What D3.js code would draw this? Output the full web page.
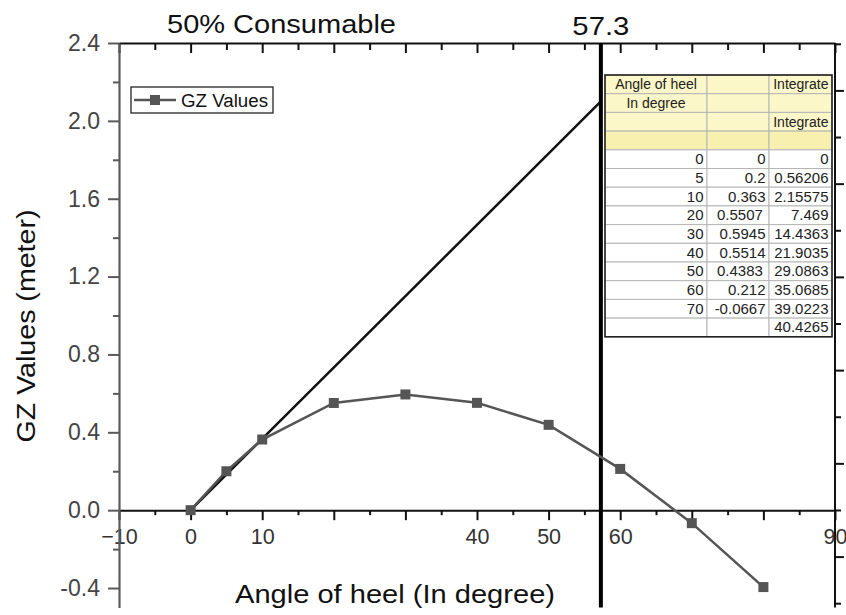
<!DOCTYPE html>
<html>
<head>
<meta charset="utf-8">
<script src="https://cdn.jsdelivr.net/npm/d3@7"></script>
<style>
  html, body { margin: 0; padding: 0; background: #fff; }
  svg { display: block; font-family: "Liberation Sans", Arial, sans-serif; }
</style>
</head>
<body>
<svg id="chart" width="846" height="615"></svg>
<script>
// ---------- data ----------
const angles = [0, 5, 10, 20, 30, 40, 50, 60, 70, 80];
const gzValues = [0, 0.2, 0.363, 0.5507, 0.5945, 0.5514, 0.4383, 0.212, -0.0667, -0.395];
const tangentX = [0, 57.3];
const tangentY = [0, 2.1];
const markerAngle = 57.3;

const xMajorTicks = [-10, 0, 10, 20, 30, 40, 50, 60, 70, 80, 90];
const xMinorTicks = [-5, 5, 15, 25, 35, 45, 55, 65, 75, 85];
const xLabelTicks = [-10, 0, 10, 40, 50, 60, 90];
const yMajorTicks = [-0.4, 0, 0.4, 0.8, 1.2, 1.6, 2.0, 2.4];
const yMinorTicks = [-0.2, 0.2, 0.6, 1.0, 1.4, 1.8, 2.2];
const rightMajorTicks = [-1, 0, 1, 2, 3, 4];
const rightMinorTicks = [-1.5, -0.5, 0.5, 1.5, 2.5, 3.5, 4.5];

const tableHeader = [
  ["Angle of heel", "", "Integrate"],
  ["In degree", "", ""],
  ["", "", "Integrate"],
  ["", "", ""]
];
const tableAngle = ["0", "5", "10", "20", "30", "40", "50", "60", "70", ""];
const tableGZ = ["0", "0.2", "0.363", "0.5507", "0.5945", "0.5514", "0.4383", "0.212", "-0.0667", ""];
const tableIntegrate = ["0", "0.56206", "2.15575", "7.469", "14.4363", "21.9035", "29.0863", "35.0685", "39.0223", "40.4265"];
const textCells = ["0.5507", "0.4383"]; // stored as text in the sheet -> left aligned

const titleText = "50% Consumable";
const xTitle = "Angle of heel (In degree)";
const yTitle = "GZ Values (meter)";
const legendLabel = "GZ Values";

// ---------- layout ----------
const svg = d3.select("#chart");
const L = 119, R = 835, T = 43, B = 607.5;
const x = d3.scaleLinear().domain([-10, 90]).range([L, R]);
const y = d3.scaleLinear().domain([-0.5, 2.4]).range([B, T]);
const yR = d3.scaleLinear().domain([-1.5, 4.5]).range([603.2, 43.8]);
const fmtX = d3.format("d");
const lineColor = "#555555";

// ---------- axes ----------
svg.append("g").attr("transform", `translate(0,${T})`)
  .call(d3.axisTop(x).tickValues(xMajorTicks).tickSize(-10).tickSizeOuter(0).tickFormat(""))
  .call(g => g.select(".domain").attr("stroke", "#111").attr("stroke-width", 2))
  .call(g => g.selectAll(".tick line").attr("stroke", "#111").attr("stroke-width", 2));
svg.append("g").attr("transform", `translate(0,${T})`)
  .call(d3.axisTop(x).tickValues(xMinorTicks).tickSize(-7).tickFormat(""))
  .call(g => g.select(".domain").remove())
  .call(g => g.selectAll(".tick line").attr("stroke", "#111").attr("stroke-width", 2));

svg.append("line").attr("x1", R).attr("x2", R).attr("y1", T).attr("y2", B)
  .attr("stroke", "#111").attr("stroke-width", 2);
svg.append("g").attr("transform", `translate(${R},0)`)
  .call(d3.axisRight(yR).tickValues(rightMajorTicks).tickSize(9).tickFormat(""))
  .call(g => g.select(".domain").remove())
  .call(g => g.selectAll(".tick line").attr("stroke", "#111").attr("stroke-width", 2));
svg.append("g").attr("transform", `translate(${R},0)`)
  .call(d3.axisRight(yR).tickValues(rightMinorTicks).tickSize(6).tickFormat(""))
  .call(g => g.select(".domain").remove())
  .call(g => g.selectAll(".tick line").attr("stroke", "#111").attr("stroke-width", 2));

const y0 = y(0);
svg.append("g").attr("transform", `translate(0,${y0})`)
  .call(d3.axisBottom(x).tickValues(xMajorTicks).tickSize(10).tickSizeOuter(0).tickPadding(9)
    .tickFormat(d => xLabelTicks.includes(d) ? fmtX(d) : ""))
  .call(g => g.select(".domain").attr("stroke", "#111").attr("stroke-width", 2))
  .call(g => g.selectAll(".tick line").attr("stroke", "#111").attr("stroke-width", 2))
  .call(g => g.selectAll(".tick text").attr("fill", "#333").attr("font-size", 21.5)
    .attr("font-family", "Liberation Sans, Arial, sans-serif"));
svg.append("g").attr("transform", `translate(0,${y0})`)
  .call(d3.axisBottom(x).tickValues(xMinorTicks).tickSize(5).tickFormat(""))
  .call(g => g.select(".domain").remove())
  .call(g => g.selectAll(".tick line").attr("stroke", "#111").attr("stroke-width", 2));

svg.append("g").attr("transform", `translate(${L},0)`)
  .call(d3.axisLeft(y).tickValues(yMajorTicks).tickSize(11).tickSizeOuter(0).tickPadding(8)
    .tickFormat(d => d.toFixed(1)))
  .call(g => g.select(".domain").attr("stroke", "#5a5a5a").attr("stroke-width", 2.2))
  .call(g => g.selectAll(".tick line").attr("stroke", "#5a5a5a").attr("stroke-width", 2))
  .call(g => g.selectAll(".tick text").attr("fill", "#444").attr("font-size", 23)
    .attr("font-family", "Liberation Sans, Arial, sans-serif"));
svg.append("g").attr("transform", `translate(${L},0)`)
  .call(d3.axisLeft(y).tickValues(yMinorTicks).tickSize(6).tickFormat(""))
  .call(g => g.select(".domain").remove())
  .call(g => g.selectAll(".tick line").attr("stroke", "#5a5a5a").attr("stroke-width", 2));

// ---------- titles ----------
svg.append("text").attr("x", 281.5).attr("y", 33).attr("text-anchor", "middle")
  .attr("font-size", 26).attr("fill", "#111")
  .attr("textLength", 229).attr("lengthAdjust", "spacingAndGlyphs").text(titleText);
svg.append("text").attr("x", x(markerAngle)).attr("y", 35).attr("text-anchor", "middle")
  .attr("font-size", 26).attr("fill", "#111")
  .attr("textLength", 57).attr("lengthAdjust", "spacingAndGlyphs").text(String(markerAngle));
svg.append("text").attr("x", 395).attr("y", 603).attr("text-anchor", "middle")
  .attr("font-size", 26).attr("fill", "#111")
  .attr("textLength", 320).attr("lengthAdjust", "spacingAndGlyphs").text(xTitle);
svg.append("text").attr("transform", "translate(35,326) rotate(-90)").attr("text-anchor", "middle")
  .attr("font-size", 26).attr("fill", "#111")
  .attr("textLength", 233).attr("lengthAdjust", "spacingAndGlyphs").text(yTitle);

// ---------- table ----------
const colEdges = [605, 707, 769, 832];
const tableTop = 75, rowH = 18.7;
const allRows = tableHeader.concat(tableAngle.map((a, i) => [a, tableGZ[i], tableIntegrate[i]]));
const tg = svg.append("g").attr("fill", "#222");
allRows.forEach((row, r) => {
  const yTop = tableTop + r * rowH;
  const fill = r < 3 ? "#FBF7C8" : (r === 3 ? "#F7F0AE" : "#ffffff");
  row.forEach((cell, c) => {
    tg.append("rect").attr("x", colEdges[c]).attr("y", yTop)
      .attr("width", colEdges[c + 1] - colEdges[c]).attr("height", rowH)
      .attr("fill", fill).attr("stroke", "#b5b5b5").attr("stroke-width", 1);
    if (cell === "") return;
    let tx, anchor;
    if (r < 4 && c === 0) { tx = (colEdges[0] + colEdges[1]) / 2; anchor = "middle"; }
    else if (r >= 4 && textCells.includes(cell)) { tx = colEdges[c] + 10; anchor = "start"; }
    else { tx = colEdges[c + 1] - 3.5; anchor = "end"; }
    tg.append("text").attr("x", tx).attr("y", yTop + rowH / 2 + 5)
      .attr("text-anchor", anchor).attr("font-size", r < 4 ? 14 : 15).text(cell);
  });
});
tg.append("rect").attr("x", colEdges[0]).attr("y", tableTop)
  .attr("width", colEdges[3] - colEdges[0]).attr("height", rowH * allRows.length)
  .attr("fill", "none").attr("stroke", "#222").attr("stroke-width", 1.6);

// ---------- marks ----------
const tangent = tangentX.map((v, i) => [v, tangentY[i]]);
svg.append("path").datum(tangent)
  .attr("d", d3.line().x(d => x(d[0])).y(d => y(d[1])))
  .attr("stroke", "#111").attr("stroke-width", 2.5).attr("fill", "none");

svg.append("line").attr("x1", x(markerAngle)).attr("x2", x(markerAngle))
  .attr("y1", T).attr("y2", B).attr("stroke", "#000").attr("stroke-width", 4);

const pts = angles.map((a, i) => [a, gzValues[i]]);
svg.append("path").datum(pts)
  .attr("d", d3.line().x(d => x(d[0])).y(d => y(d[1])))
  .attr("stroke", lineColor).attr("stroke-width", 2.5).attr("fill", "none");
svg.append("g").selectAll("rect").data(pts).join("rect")
  .attr("x", d => x(d[0]) - 5).attr("y", d => y(d[1]) - 5)
  .attr("width", 10).attr("height", 10).attr("fill", lineColor);

// ---------- legend ----------
const lg = svg.append("g");
lg.append("rect").attr("x", 131).attr("y", 87).attr("width", 142).attr("height", 26)
  .attr("fill", "#fff").attr("stroke", "#111").attr("stroke-width", 1.2);
lg.append("line").attr("x1", 134).attr("x2", 176).attr("y1", 100).attr("y2", 100)
  .attr("stroke", lineColor).attr("stroke-width", 2.5);
lg.append("rect").attr("x", 150).attr("y", 95).attr("width", 10).attr("height", 10).attr("fill", lineColor);
lg.append("text").attr("x", 181).attr("y", 106.5).attr("font-size", 18).attr("fill", "#111")
  .attr("textLength", 87).attr("lengthAdjust", "spacingAndGlyphs").text(legendLabel);
</script>
</body>
</html>
